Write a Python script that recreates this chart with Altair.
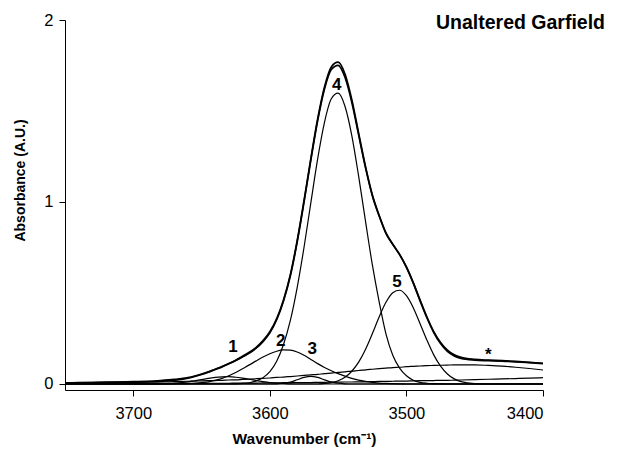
import altair as alt
import pandas as pd

# Wavenumber grid (cm-1)
wavenumber = [3750, 3740, 3730, 3720, 3710, 3700, 3690, 3680, 3670, 3660,
              3655, 3650, 3645, 3640, 3635, 3630, 3625, 3620, 3615, 3610,
              3605, 3600, 3595, 3590, 3585, 3580, 3575, 3570, 3565, 3560,
              3555, 3550, 3545, 3540, 3535, 3530, 3525, 3520, 3515, 3510,
              3505, 3500, 3495, 3490, 3485, 3480, 3475, 3470, 3465, 3460,
              3450, 3440, 3430, 3420, 3410, 3400]

band1 = [0, 0, 0, 0, 0, 0, 0, 0.001, 0.004, 0.012,
         0.018, 0.024, 0.031, 0.036, 0.039, 0.040, 0.037, 0.032, 0.026, 0.019,
         0.013, 0.008, 0.005, 0.003, 0.001, 0, 0, 0, 0, 0,
         0, 0, 0, 0, 0, 0, 0, 0, 0, 0,
         0, 0, 0, 0, 0, 0, 0, 0, 0, 0,
         0, 0, 0, 0, 0, 0]

band2 = [0, 0, 0, 0, 0, 0, 0, 0, 0.001, 0.002,
         0.004, 0.008, 0.012, 0.021, 0.031, 0.045, 0.063, 0.084, 0.105, 0.127,
         0.148, 0.166, 0.180, 0.187, 0.186, 0.176, 0.158, 0.135, 0.112, 0.091,
         0.073, 0.057, 0.043, 0.031, 0.021, 0.014, 0.009, 0.005, 0.003, 0.002,
         0.001, 0, 0, 0, 0, 0, 0, 0, 0, 0,
         0, 0, 0, 0, 0, 0]

band3 = [0, 0, 0, 0, 0, 0, 0, 0, 0, 0,
         0, 0, 0, 0, 0, 0, 0, 0, 0, 0,
         0, 0, 0.001, 0.004, 0.010, 0.023, 0.036, 0.042, 0.036, 0.023,
         0.010, 0.004, 0.001, 0, 0, 0, 0, 0, 0, 0,
         0, 0, 0, 0, 0, 0, 0, 0, 0, 0,
         0, 0, 0, 0, 0, 0]

band4 = [0, 0, 0, 0, 0, 0, 0, 0, 0, 0,
         0, 0, 0, 0, 0, 0, 0.001, 0.003, 0.007, 0.017,
         0.035, 0.068, 0.125, 0.217, 0.349, 0.530, 0.750, 0.995, 1.237, 1.438,
         1.567, 1.598, 1.526, 1.365, 1.142, 0.896, 0.657, 0.453, 0.275, 0.158,
         0.087, 0.045, 0.021, 0.009, 0.004, 0.002, 0.001, 0, 0, 0,
         0, 0, 0, 0, 0, 0]

band5 = [0, 0, 0, 0, 0, 0, 0, 0, 0, 0,
         0, 0, 0, 0, 0, 0, 0, 0, 0, 0,
         0, 0, 0, 0, 0, 0, 0, 0, 0, 0.003,
         0.008, 0.018, 0.037, 0.070, 0.120, 0.190, 0.276, 0.368, 0.449, 0.502,
         0.515, 0.485, 0.419, 0.331, 0.241, 0.160, 0.098, 0.055, 0.028, 0.013,
         0.002, 0, 0, 0, 0, 0]

band_star = [0.004, 0.005, 0.006, 0.007, 0.008, 0.009, 0.010, 0.011, 0.013, 0.015,
             0.016, 0.017, 0.018, 0.019, 0.020, 0.022, 0.023, 0.025, 0.027, 0.029,
             0.031, 0.033, 0.036, 0.038, 0.041, 0.044, 0.047, 0.050, 0.053, 0.057,
             0.060, 0.064, 0.067, 0.071, 0.074, 0.078, 0.081, 0.084, 0.087, 0.090,
             0.092, 0.095, 0.097, 0.099, 0.101, 0.102, 0.103, 0.104, 0.105, 0.105,
             0.105, 0.102, 0.098, 0.092, 0.085, 0.077]

band_water = [0.001, 0.001, 0.001, 0.001, 0.002, 0.002, 0.002, 0.002, 0.003, 0.003,
              0.003, 0.003, 0.004, 0.004, 0.004, 0.004, 0.005, 0.005, 0.005, 0.005,
              0.006, 0.006, 0.006, 0.007, 0.007, 0.007, 0.008, 0.008, 0.009, 0.009,
              0.010, 0.010, 0.011, 0.011, 0.012, 0.012, 0.013, 0.014, 0.014, 0.015,
              0.016, 0.016, 0.017, 0.018, 0.018, 0.019, 0.020, 0.020, 0.021, 0.022,
              0.024, 0.026, 0.028, 0.030, 0.032, 0.035]

measured = [0.006, 0.007, 0.008, 0.010, 0.011, 0.013, 0.015, 0.019, 0.025, 0.035,
            0.044, 0.055, 0.067, 0.081, 0.096, 0.113, 0.131, 0.152, 0.174, 0.201,
            0.238, 0.287, 0.359, 0.462, 0.600, 0.787, 1.006, 1.238, 1.456, 1.632,
            1.742, 1.768, 1.703, 1.562, 1.378, 1.196, 1.040, 0.927, 0.830, 0.768,
            0.712, 0.643, 0.557, 0.461, 0.368, 0.288, 0.228, 0.186, 0.160, 0.146,
            0.135, 0.131, 0.128, 0.124, 0.119, 0.114]

# Axis ticks
x_ticks = [3700, 3600, 3500, 3400]
y_ticks = [0, 1, 2]

# Peak labels
label_text = ["1", "2", "3", "4", "5", "*"]
label_x = [3627, 3592, 3569, 3551, 3507, 3440]
label_y = [0.206, 0.236, 0.192, 1.643, 0.563, 0.160]

title_text = "Unaltered Garfield"

components = {
    "1": band1, "2": band2, "3": band3, "4": band4, "5": band5,
    "star": band_star, "water": band_water,
}

rows = []
for name, vals in components.items():
    for w, v in zip(wavenumber, vals):
        rows.append({"wn": w, "a": v, "series": name, "kind": "comp"})
fit = [sum(vals[i] for vals in components.values()) for i in range(len(wavenumber))]
for w, v in zip(wavenumber, fit):
    rows.append({"wn": w, "a": v, "series": "fit", "kind": "env"})
for w, v in zip(wavenumber, measured):
    rows.append({"wn": w, "a": v, "series": "measured", "kind": "env"})
df = pd.DataFrame(rows)

labels_df = pd.DataFrame({"t": label_text, "wn": label_x, "a": label_y})

FONT = "Liberation Sans"

x_enc = alt.X(
    "wn:Q",
    scale=alt.Scale(domain=[3400, 3750], reverse=True, nice=False, zero=False),
    axis=alt.Axis(values=x_ticks, title="Wavenumber (cm\u207b\u00b9)",
                  titleFontSize=15.5, titleY=48, titleBaseline="middle",
                  labelPadding=9, tickSize=6, labelExpr="'' + datum.value",
                  labelOverlap=False),
)
y_enc = alt.Y(
    "a:Q",
    scale=alt.Scale(domain=[-0.033, 2], nice=False, zero=False),
    axis=alt.Axis(values=y_ticks, title="Absorbance (A.U.)",
                  labelExpr="'' + datum.value", labelOverlap=False,
                  titleFontSize=14, titleX=-45, titleY=160, titleBaseline="middle",
                  labelPadding=6, tickSize=6),
)

lines = alt.Chart(df).mark_line(interpolate="monotone", color="black").encode(
    x=x_enc,
    y=y_enc,
    detail="series:N",
    strokeWidth=alt.StrokeWidth("kind:N", scale=alt.Scale(domain=["env", "comp"], range=[1.7, 1.2]), legend=None),
)

labels = alt.Chart(labels_df).mark_text(
    font=FONT, fontSize=17, fontWeight="bold", color="black", baseline="middle", align="center"
).encode(x="wn:Q", y="a:Q", text="t:N")

title = alt.Chart(pd.DataFrame({"t": [title_text]})).mark_text(
    font=FONT, fontSize=19.5, fontWeight="bold", color="black", align="right", baseline="middle"
).encode(x=alt.value(540), y=alt.value(3), text="t:N")

chart = alt.layer(lines, labels, title).properties(
    width=478, height=370,
    autosize=alt.AutoSizeParams(type="none"),
    padding={"left": 57, "top": 12, "right": 67, "bottom": 60},
).configure_axis(
    grid=False, domainColor="black", tickColor="black", labelColor="black", titleColor="black",
    labelFont=FONT, titleFont=FONT, labelFontSize=16.5, titleFontWeight="bold",
).configure_view(stroke=None)

chart.save("out.html", embed_options={"renderer": "svg", "actions": False})
